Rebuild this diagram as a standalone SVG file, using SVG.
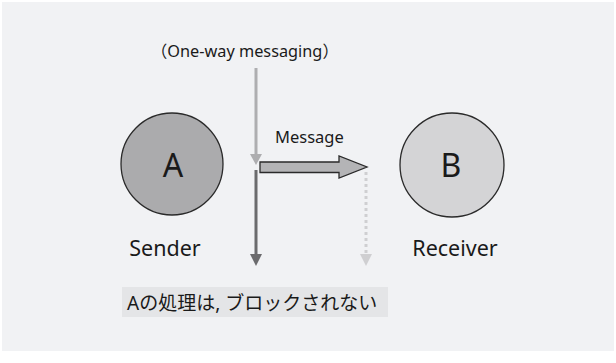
<svg xmlns="http://www.w3.org/2000/svg" width="616" height="363" viewBox="0 0 616 363">
<style>
text{font-family:"Noto Sans","Noto Sans CJK JP",sans-serif;fill:#1a1a1a}
.node circle{stroke:#2a2a2a;stroke-width:1.3}
.big{font-size:32px;text-anchor:middle}
.lbl{font-size:21.5px;text-anchor:middle}
.sm{font-size:16.3px}
</style>
<rect x="0" y="0" width="616" height="363" fill="#ffffff"/>
<rect x="2" y="2" width="612" height="349" fill="#f1f2f4"/>
<g id="nodeA" class="node">
<circle cx="172" cy="164" r="51" fill="#ababad"/>
<text class="big" x="173" y="177">A</text>
<text class="lbl" x="165" y="256">Sender</text>
</g>
<g id="nodeB" class="node">
<circle cx="452" cy="165" r="52" fill="#d4d4d6"/>
<text class="big" x="451" y="177">B</text>
<text class="lbl" x="455" y="256">Receiver</text>
</g>
<g id="connectors">
<line x1="256" y1="68" x2="256" y2="156" stroke="#aeaeb0" stroke-width="3"/>
<path d="M250,154 L262,154 L256,165 Z" fill="#aeaeb0"/>
<line x1="256" y1="170" x2="256" y2="256" stroke="#6b6b6d" stroke-width="3"/>
<path d="M250,254 L262,254 L256,266 Z" fill="#6b6b6d"/>
<line x1="366" y1="172" x2="366" y2="256" stroke="#cfcfd1" stroke-width="3" stroke-dasharray="3,3"/>
<path d="M360,254 L372,254 L366,266 Z" fill="#cfcfd1"/>
<path d="M260,162 L339,162 L339,156 L367,167 L339,178 L339,172.5 L260,172.5 Z" fill="#b4b4b6" stroke="#2a2a2a" stroke-width="1.3" stroke-linejoin="miter"/>
</g>
<g id="labels">
<text class="sm" x="151" y="57">（One-way messaging）</text>
<text class="sm" x="275" y="143" style="font-size:16.5px">Message</text>
<rect x="122" y="287" width="266" height="30" fill="#e4e5e7"/>
<text x="127" y="310" style="font-size:19px">Aの処理は, ブロックされない</text>
</g>
</svg>
